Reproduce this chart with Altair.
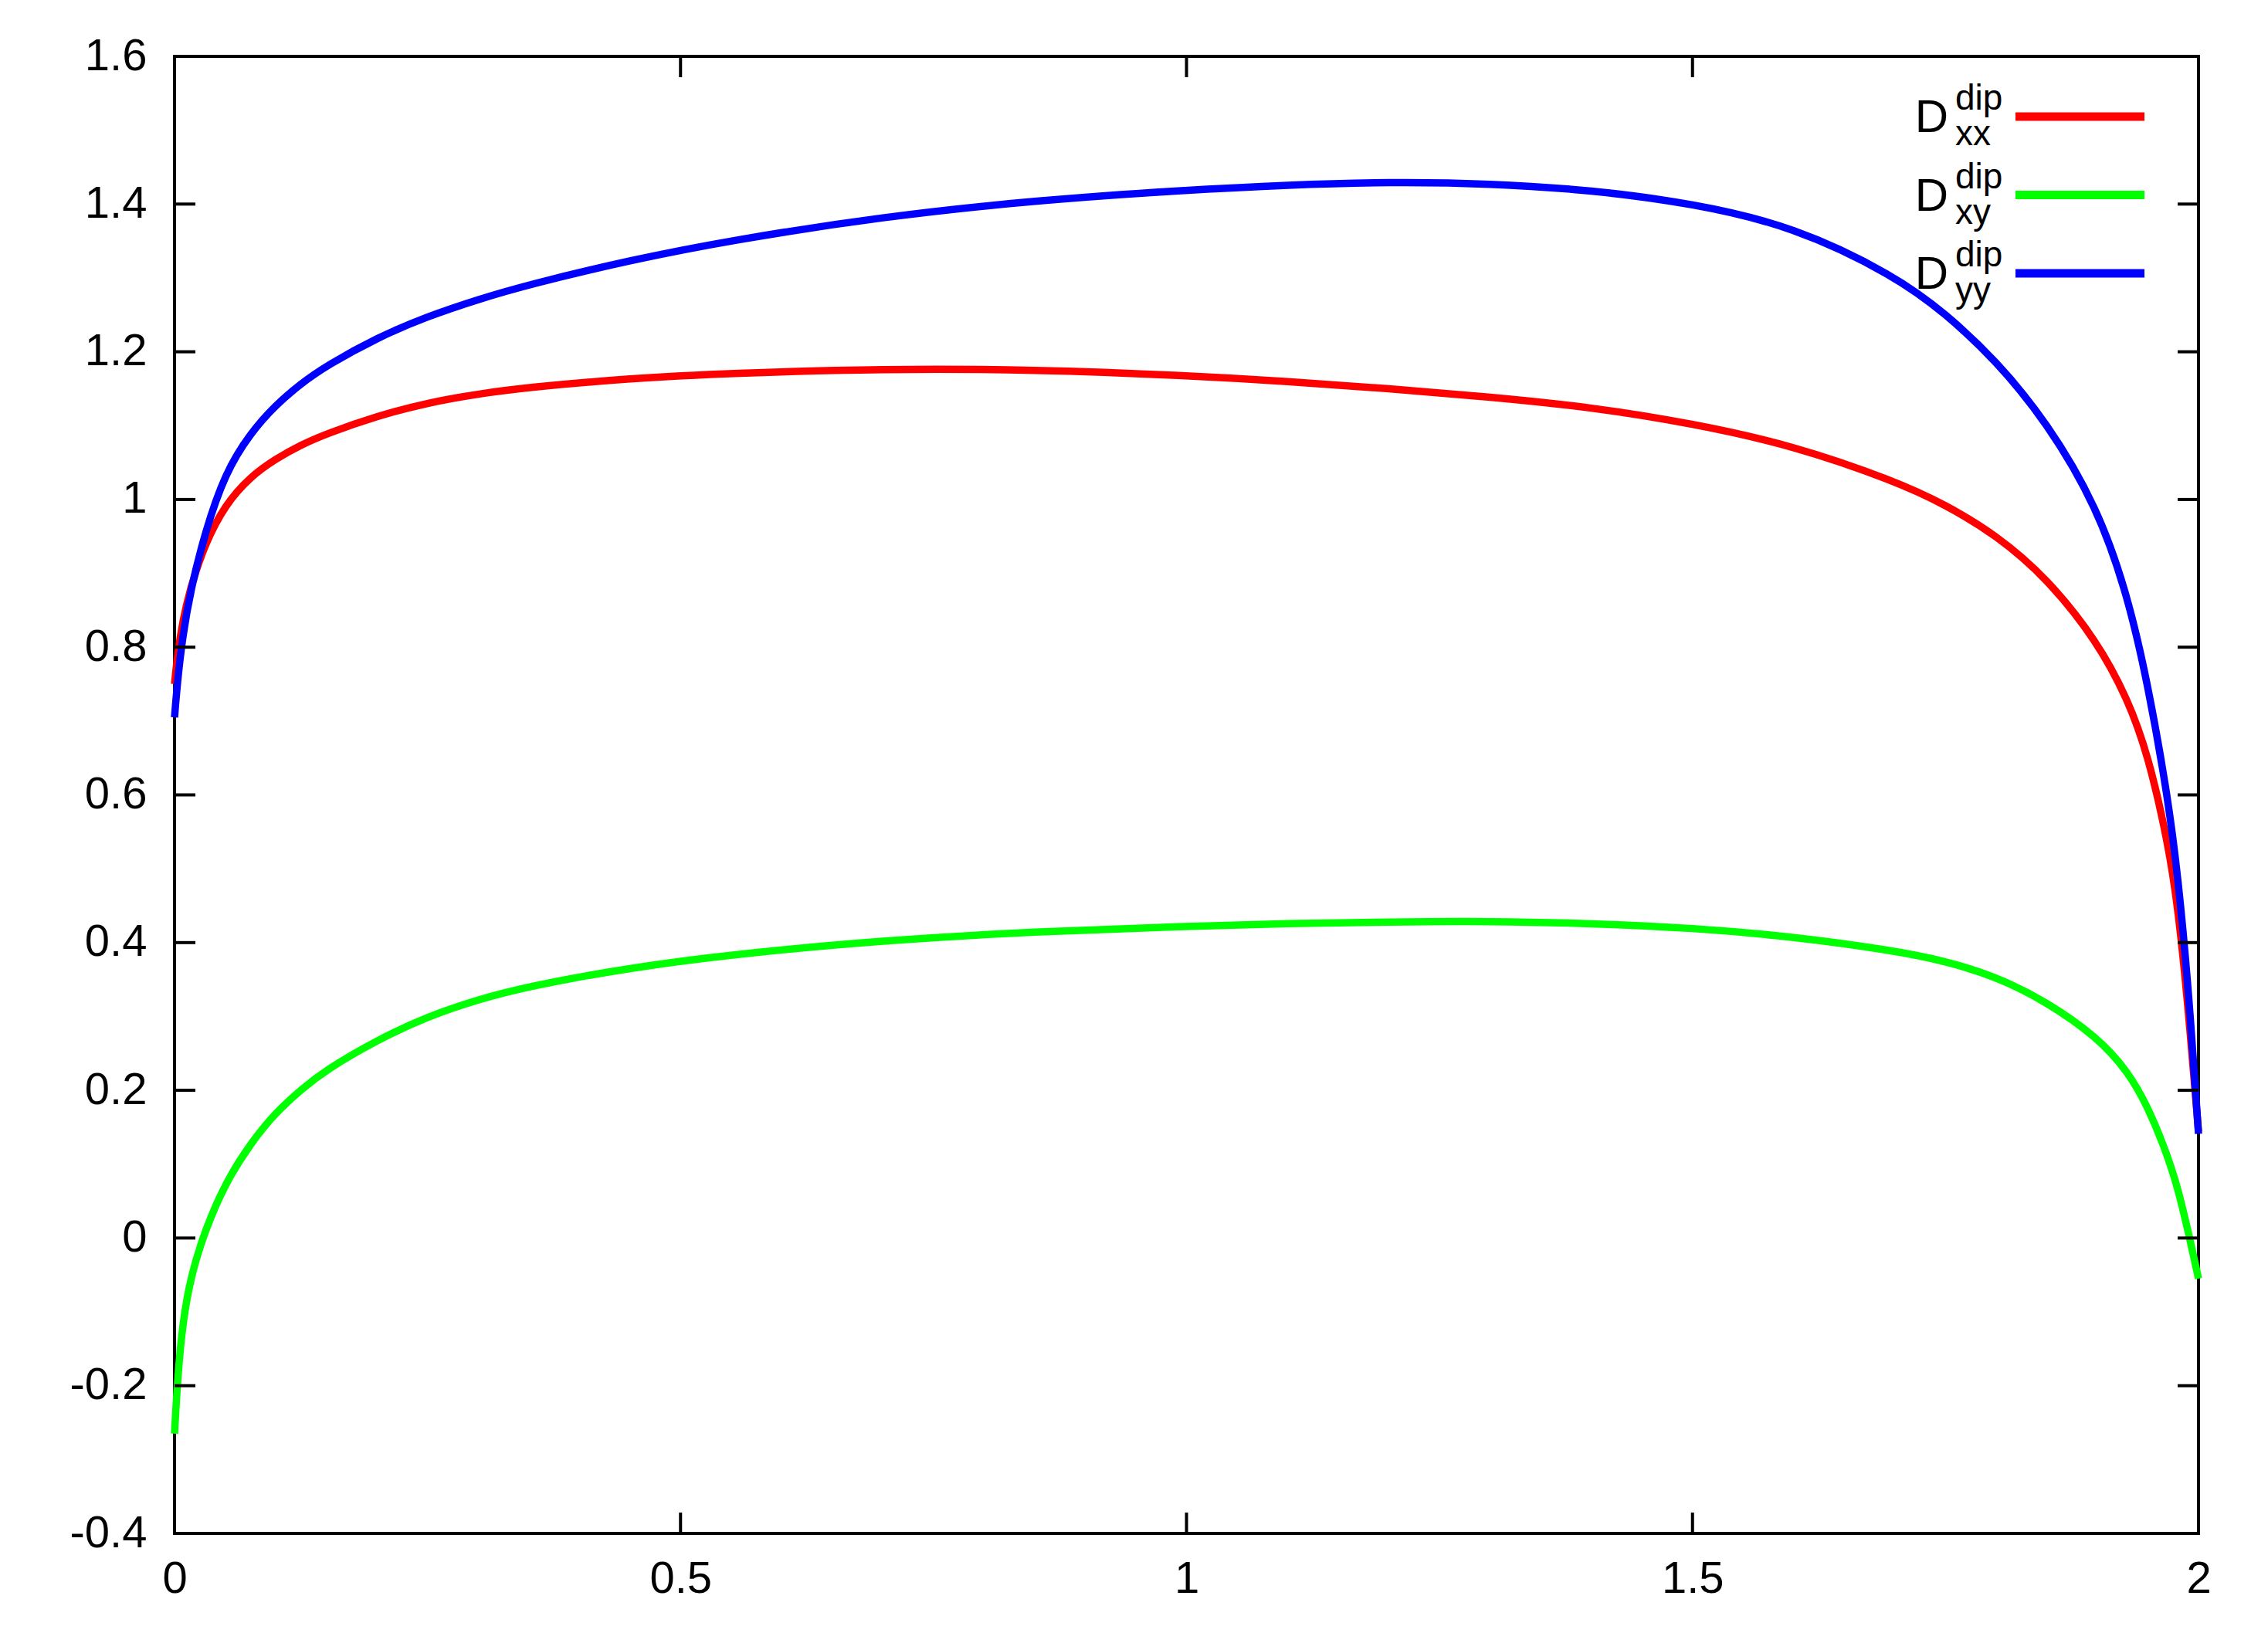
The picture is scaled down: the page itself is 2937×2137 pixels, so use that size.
import altair as alt
import pandas as pd

# ---- data ----
x_vals = [0.0, 0.003, 0.008, 0.016, 0.03, 0.05, 0.075, 0.1, 0.125, 0.15, 0.2, 0.25,
          0.3, 0.35, 0.45, 0.55, 0.7, 0.85, 1.0, 1.1, 1.2, 1.3, 1.4, 1.5, 1.6, 1.7,
          1.75, 1.8, 1.85, 1.9, 1.93, 1.95, 1.97, 1.98, 1.99, 2.0]
d_xx = [0.75, 0.79, 0.835, 0.882, 0.94, 0.993, 1.031, 1.055, 1.074, 1.089, 1.113, 1.131,
        1.143, 1.152, 1.164, 1.171, 1.177, 1.176, 1.168, 1.160, 1.150, 1.139, 1.125, 1.103,
        1.073, 1.025, 0.993, 0.952, 0.894, 0.808, 0.73, 0.655, 0.535, 0.445, 0.31, 0.144]
d_xy = [-0.265, -0.19, -0.115, -0.052, 0.01, 0.074, 0.128, 0.170, 0.201, 0.228, 0.268, 0.300,
        0.323, 0.341, 0.366, 0.384, 0.403, 0.415, 0.422, 0.426, 0.428, 0.429, 0.426, 0.420,
        0.408, 0.389, 0.375, 0.354, 0.320, 0.272, 0.226, 0.178, 0.11, 0.065, 0.008, -0.055]
d_yy = [0.705, 0.755, 0.815, 0.878, 0.955, 1.036, 1.090, 1.128, 1.157, 1.181, 1.219, 1.248,
        1.271, 1.291, 1.324, 1.351, 1.383, 1.405, 1.419, 1.426, 1.430, 1.428, 1.419, 1.401,
        1.370, 1.303, 1.252, 1.188, 1.105, 0.99, 0.87, 0.75, 0.595, 0.485, 0.34, 0.141]

series_subs = ["xx", "xy", "yy"]
series_colors = ["#ff0000", "#00ff00", "#0000ff"]

x_ticks = [0, 0.5, 1, 1.5, 2]
y_ticks = [-0.4, -0.2, 0, 0.2, 0.4, 0.6, 0.8, 1, 1.2, 1.4, 1.6]

# ---- layout ----
W, H = 2621, 1913
TICK = 27
FONT = "Liberation Sans"

df = pd.DataFrame({"x": x_vals, "xx": d_xx, "xy": d_xy, "yy": d_yy})
xt = pd.DataFrame({"t": x_ticks})
yt = pd.DataFrame({"t": y_ticks})

xscale = alt.Scale(domain=[0, 2], nice=False, zero=False)
yscale = alt.Scale(domain=[-0.4, 1.6], nice=False, zero=False)

x_axis = alt.Axis(values=x_ticks, title=None, grid=False, ticks=False, domain=False,
                  labelFontSize=58, labelFont=FONT, labelColor="black", labelPadding=30,
                  labelFlush=False, labelOverlap=False, labelExpr="datum.value + ''")
y_axis = alt.Axis(values=y_ticks, title=None, grid=False, ticks=False, domain=False,
                  labelFontSize=58, labelFont=FONT, labelColor="black", labelPadding=36,
                  labelFlush=False, labelOverlap=False, labelExpr="datum.value + ''")

layers = []
for sub, col in zip(series_subs, series_colors):
    layers.append(
        alt.Chart(df).mark_line(color=col, strokeWidth=9.5, interpolate="basis",
                                strokeCap="butt", strokeJoin="round")
        .encode(x=alt.X("x:Q", scale=xscale, axis=x_axis),
                y=alt.Y(f"{sub}:Q", scale=yscale, axis=y_axis))
    )

# inward ticks on all four sides
tick_style = dict(color="black", strokeWidth=4)
layers.append(alt.Chart(yt).mark_rule(**tick_style).encode(
    y=alt.Y("t:Q", scale=yscale, axis=y_axis), x=alt.value(0), x2=alt.value(TICK)))
layers.append(alt.Chart(yt).mark_rule(**tick_style).encode(
    y=alt.Y("t:Q", scale=yscale, axis=y_axis), x=alt.value(W - TICK), x2=alt.value(W)))
layers.append(alt.Chart(xt).mark_rule(**tick_style).encode(
    x=alt.X("t:Q", scale=xscale, axis=x_axis), y=alt.value(H - TICK), y2=alt.value(H)))
layers.append(alt.Chart(xt).mark_rule(**tick_style).encode(
    x=alt.X("t:Q", scale=xscale, axis=x_axis), y=alt.value(0), y2=alt.value(TICK)))

# legend (top right, inside the frame)
leg_y0, leg_dy = 78, 101.5
for i, (sub, col) in enumerate(zip(series_subs, series_colors)):
    ly = leg_y0 + i * leg_dy
    one = pd.DataFrame({"main": ["D"], "sup": ["dip"], "sub": [sub]})
    layers.append(alt.Chart(one).mark_rule(color=col, strokeWidth=11).encode(
        x=alt.value(2384), x2=alt.value(2551), y=alt.value(ly)))
    layers.append(alt.Chart(one).mark_text(font=FONT, fontSize=60, align="right",
                                           baseline="alphabetic", color="black").encode(
        text="main:N", x=alt.value(2297), y=alt.value(ly + 20)))
    layers.append(alt.Chart(one).mark_text(font=FONT, fontSize=46, align="left",
                                           baseline="alphabetic", color="black").encode(
        text="sup:N", x=alt.value(2306), y=alt.value(ly - 9)))
    layers.append(alt.Chart(one).mark_text(font=FONT, fontSize=46, align="left",
                                           baseline="alphabetic", color="black").encode(
        text="sub:N", x=alt.value(2306), y=alt.value(ly + 37)))

chart = alt.layer(*layers).properties(
    width=W, height=H,
    autosize=alt.AutoSizeParams(type="none"),
    padding={"left": 218, "top": 65, "right": 60, "bottom": 120},
    background="white",
).configure_view(stroke="black", strokeWidth=4)

chart.save("out.html", embed_options={"renderer": "svg", "actions": False})
